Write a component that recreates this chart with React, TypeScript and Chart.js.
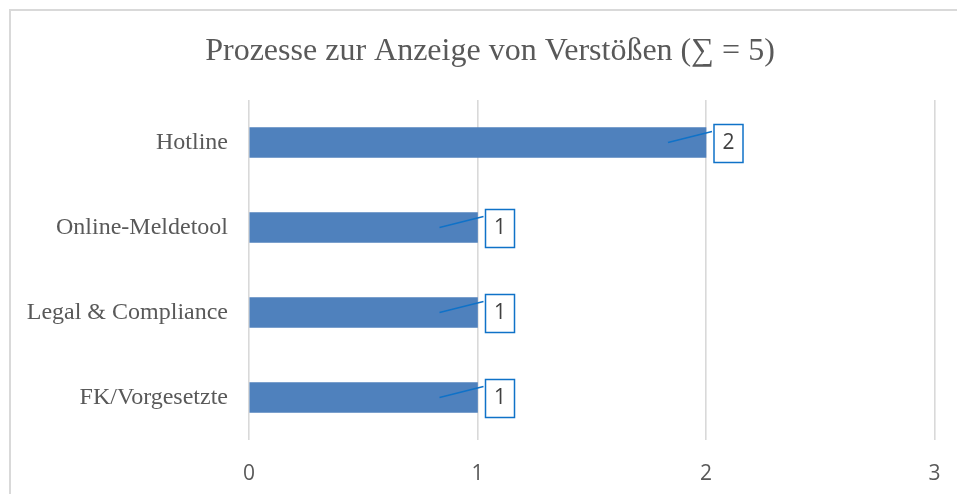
import React, { useEffect, useRef } from "react";
import { Chart, registerables } from "chart.js";

Chart.register(...registerables);

const title = "Prozesse zur Anzeige von Verstößen (∑ = 5)";
const categories = ["Hotline", "Online-Meldetool", "Legal & Compliance", "FK/Vorgesetzte"];
const values = [2, 1, 1, 1];
const xTicks = [0, 1, 2, 3];

const TEXT = "#595959";
const BLUE_LABEL = "#0f72c8";

const titlePlugin = {
  id: "customTitle",
  afterDraw(chart: any) {
    const ctx = chart.ctx;
    ctx.save();
    ctx.font = "32px 'Liberation Serif'";
    ctx.fillStyle = TEXT;
    ctx.textAlign = "center";
    ctx.textBaseline = "alphabetic";
    ctx.fillText(title, 490, 60);
    ctx.restore();
  },
};

const labelPlugin = {
  id: "boxLabels",
  afterDatasetsDraw(chart: any) {
    const ctx = chart.ctx;
    const meta = chart.getDatasetMeta(0);
    const xs = chart.scales.x;
    ctx.save();
    meta.data.forEach((bar: any, i: number) => {
      const v = values[i];
      const end = xs.getPixelForValue(v);
      const cy = bar.y;
      // leader line
      ctx.strokeStyle = BLUE_LABEL;
      ctx.lineWidth = 1.3;
      ctx.beginPath();
      ctx.moveTo(end - 38, cy);
      ctx.lineTo(end + 6, cy - 11);
      ctx.stroke();
      // box
      const bx = end + 8;
      const by = cy - 18;
      const bw = 29;
      const bh = 38;
      ctx.fillStyle = "#ffffff";
      ctx.fillRect(bx, by, bw, bh);
      ctx.lineWidth = 1.5;
      ctx.strokeRect(bx, by, bw, bh);
      ctx.fillStyle = "#404040";
      ctx.font = "21px 'Open Sans'";
      ctx.textAlign = "center";
      ctx.textBaseline = "middle";
      ctx.fillText(String(v), bx + bw / 2, cy + 1);
    });
    ctx.restore();
  },
};

export default function App() {
  const ref = useRef<HTMLCanvasElement | null>(null);

  useEffect(() => {
    if (!ref.current) return;
    const chart = new Chart(ref.current, {
      type: "bar",
      data: {
        labels: categories,
        datasets: [
          {
            data: values,
            backgroundColor: "#4f81bd",
            borderWidth: 0,
            barThickness: 30,
          },
        ],
      },
      options: {
        indexAxis: "y",
        animation: false,
        responsive: false,
        maintainAspectRatio: false,
        layout: { padding: { top: 100, right: 22.5, left: 0, bottom: 0 } },
        plugins: {
          legend: { display: false },
          title: { display: false },
          tooltip: { enabled: false },
        },
        scales: {
          x: {
            type: "linear",
            min: xTicks[0],
            max: xTicks[xTicks.length - 1],
            afterBuildTicks(scale: any) {
              scale.ticks = xTicks.map((v) => ({ value: v }));
            },
            afterFit(scale: any) {
              scale.height = 54;
              scale.paddingLeft = 0;
              scale.paddingRight = 0;
            },
            grid: { color: "#d9d9d9", lineWidth: 1.6, drawTicks: false },
            border: { display: false },
            ticks: {
              padding: 21,
              color: TEXT,
              font: { family: "'Open Sans'", size: 21 },
            },
          },
          y: {
            afterFit(scale: any) {
              scale.width = 249;
              scale.paddingTop = 0;
              scale.paddingBottom = 0;
            },
            grid: { display: false, drawTicks: false },
            border: { display: false },
            ticks: {
              padding: 21,
              color: TEXT,
              font: { family: "'Liberation Serif'", size: 24 },
            },
          },
        },
      },
      plugins: [titlePlugin, labelPlugin],
    });
    return () => chart.destroy();
  }, []);

  return (
    <>
      <div
        style={{
          position: "fixed",
          left: 9,
          top: 9,
          width: 1000,
          height: 600,
          border: "2px solid #d9d9d9",
          background: "#ffffff",
          boxSizing: "border-box",
        }}
      />
      <canvas
        ref={ref}
        width={957}
        height={494}
        style={{ position: "fixed", left: 0, top: 0, width: 957, height: 494 }}
      />
    </>
  );
}
